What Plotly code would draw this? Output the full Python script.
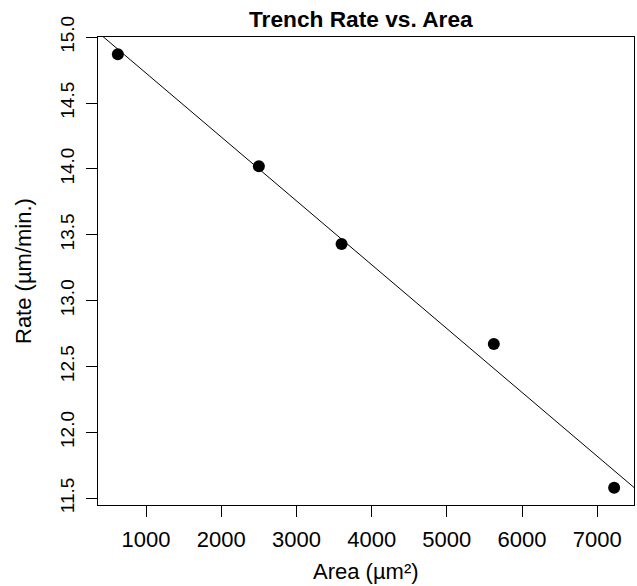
import numpy as np
import plotly.graph_objects as go

# Data
area = [625, 2500, 3600, 5625, 7225]          # µm²
rate = [14.87, 14.02, 13.43, 12.67, 11.58]    # µm/min.

x_tick_vals = [1000, 2000, 3000, 4000, 5000, 6000, 7000]
x_tick_text = ["1000", "2000", "3000", "4000", "5000", "6000", "7000"]
y_tick_vals = [11.5, 12.0, 12.5, 13.0, 13.5, 14.0, 14.5, 15.0]
y_tick_text = ["11.5", "12.0", "12.5", "13.0", "13.5", "14.0", "14.5", "15.0"]

title_text = "Trench Rate vs. Area"
x_title = "Area (µm²)"
y_title = "Rate (µm/min.)"

# Least-squares fit line (abline of lm)
slope, intercept = np.polyfit(area, rate, 1)


def r_range(v):
    lo, hi = min(v), max(v)
    pad = 0.04 * (hi - lo)
    return [lo - pad, hi + pad]


xr = r_range(area)
yr = r_range(rate)
fit_x = np.array(xr)
fit_y = intercept + slope * fit_x

W, H = 637, 586
L, R, T, B = 98, 3, 37, 81
PW, PH = W - L - R, H - T - B
FONT = "Liberation Sans, Arial, Helvetica, sans-serif"

fig = go.Figure()
fig.add_trace(go.Scatter(
    x=fit_x, y=fit_y, mode="lines",
    line=dict(color="black", width=1),
    showlegend=False, hoverinfo="skip",
))
fig.add_trace(go.Scatter(
    x=area, y=rate, mode="markers",
    marker=dict(color="black", size=12, line=dict(width=0)),
    showlegend=False,
))

axis_common = dict(
    showline=True, mirror=True, linecolor="black", linewidth=1,
    ticks="outside", ticklen=11, tickwidth=1, tickcolor="black",
    showgrid=False, zeroline=False, automargin=False,
)

fig.update_layout(
    width=W, height=H,
    margin=dict(l=L, r=R, t=T, b=B, autoexpand=False),
    paper_bgcolor="white", plot_bgcolor="white",
    font=dict(family=FONT, color="black", size=22),
    xaxis=dict(
        range=xr, tickmode="array", tickvals=x_tick_vals, ticktext=x_tick_text,
        tickfont=dict(family=FONT, size=22, color="black"),
        ticklabelstandoff=4,
        **axis_common,
    ),
    yaxis=dict(
        range=yr, tickmode="array", tickvals=y_tick_vals, ticktext=y_tick_text,
        tickangle=-90, ticklabelstandoff=4,
        tickfont=dict(family=FONT, size=19, color="black"),
        **axis_common,
    ),
    annotations=[
        dict(text="<b>" + title_text + "</b>", xref="paper", yref="paper",
             x=(361 - L) / PW, y=(T - 19) / PH + 1, xanchor="center", yanchor="middle",
             showarrow=False, font=dict(family=FONT, size=22.7, color="black")),
        dict(text=x_title, xref="paper", yref="paper",
             x=0.5, y=-(571 - (H - B)) / PH, xanchor="center", yanchor="middle",
             showarrow=False, font=dict(family=FONT, size=22, color="black")),
        dict(text=y_title, xref="paper", yref="paper", textangle=-90,
             x=-(L - 23) / PW, y=0.5, xanchor="center", yanchor="middle",
             showarrow=False, font=dict(family=FONT, size=22, color="black")),
    ],
)

fig.write_html(
    "out.html",
    config={"displayModeBar": False},
    post_script="document.body.style.margin='0';document.body.style.padding='0';"
                "document.documentElement.style.overflow='hidden';",
)
